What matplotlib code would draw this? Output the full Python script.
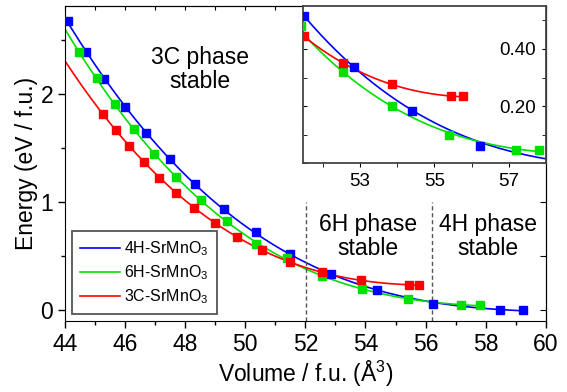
import numpy as np
import matplotlib
matplotlib.use("Agg")
import matplotlib.pyplot as plt
from matplotlib.ticker import MultipleLocator, FixedLocator, FormatStrFormatter

plt.rcParams['font.family'] = ['Liberation Sans', 'DejaVu Sans']
plt.rcParams['mathtext.fontset'] = 'custom'
plt.rcParams['mathtext.rm'] = 'Liberation Sans'
plt.rcParams['mathtext.it'] = 'Liberation Sans:italic'

# data (volume in A^3 / f.u., energy in eV / f.u.)
v_4h = [44.11, 44.69, 45.31, 45.99, 46.70, 47.48, 48.33, 49.28, 50.34, 51.50,
        52.85, 54.39, 56.23, 58.48, 59.25]
e_4h = [2.67, 2.39, 2.135, 1.877, 1.635, 1.397, 1.163, 0.937, 0.725, 0.516,
        0.338, 0.183, 0.062, 0.006, 0.0]

v_6h = [44.47, 45.05, 45.65, 46.29, 46.97, 47.69, 48.51, 49.39, 50.34, 51.40,
        52.54, 53.87, 55.40, 57.18, 57.81]
e_6h = [2.384, 2.141, 1.901, 1.671, 1.447, 1.229, 1.020, 0.820, 0.615, 0.479,
        0.320, 0.200, 0.100, 0.047, 0.046]

v_3c = [45.25, 45.70, 46.14, 46.63, 47.14, 47.70, 48.31, 48.99, 49.72, 50.54,
        51.49, 52.55, 53.85, 55.44, 55.77]
e_3c = [1.813, 1.665, 1.514, 1.370, 1.226, 1.085, 0.943, 0.808, 0.679, 0.556,
        0.445, 0.350, 0.276, 0.234, 0.234]

# fitted curve ranges
fit_4h = (44.0, 59.3)
fit_6h = (44.0, 57.85)
fit_3c = (44.0, 55.8)

# phase boundaries
v_bounds = [52.02, 56.2]

inset_yticks = [0.2, 0.4]

series = [
    ("4H-SrMnO$_3$", v_4h, e_4h, fit_4h, "#0000ff"),
    ("6H-SrMnO$_3$", v_6h, e_6h, fit_6h, "#00e000"),
    ("3C-SrMnO$_3$", v_3c, e_3c, fit_3c, "#ff0000"),
]

fig = plt.figure(figsize=(5.67, 3.92), dpi=100)
ax = fig.add_axes([0.1146, 0.181, 0.848, 0.8036])
axin = fig.add_axes([0.534, 0.5834, 0.429, 0.401])

for name, v, e, rng, col in series:
    coef = np.polyfit(v, e, 3)
    vv = np.linspace(rng[0], rng[1], 300)
    for a in (ax, axin):
        a.plot(vv, np.polyval(coef, vv), color=col, lw=1.2, label=name)
        a.plot(v, e, 's', color=col, ms=5.5, mec=col, zorder=3)

for vb in v_bounds:
    ax.plot([vb, vb], [-0.1, 1.0], ls=(0, (3, 2)), color='#555555', lw=1.0)

txt = dict(ha='center', va='center', fontsize=16.5, linespacing=1.05)
ax.text(48.5, 2.22, "3C phase\nstable", **txt)
ax.text(54.08, 0.68, "6H phase\nstable", **txt)
ax.text(58.08, 0.68, "4H phase\nstable", **txt)

ax.set_xlim(44, 60)
ax.set_ylim(-0.1, 2.81)
ax.xaxis.set_major_locator(MultipleLocator(2))
ax.xaxis.set_minor_locator(MultipleLocator(1))
ax.yaxis.set_major_locator(MultipleLocator(1))
ax.yaxis.set_minor_locator(MultipleLocator(0.5))
ax.tick_params(which='both', direction='out', labelsize=16.5, top=False, right=False, width=1)
ax.tick_params(which='major', length=5)
ax.tick_params(which='minor', length=3)
ax.set_xlabel("Volume / f.u. (Å$^3$)", fontsize=16.5, labelpad=2)
ax.set_ylabel("Energy (eV / f.u.)", fontsize=16.5, labelpad=2)

secx = ax.secondary_xaxis('top')
secx.xaxis.set_major_locator(MultipleLocator(1))
secx.tick_params(direction='in', length=3, labeltop=False)
secy = ax.secondary_yaxis('right')
secy.yaxis.set_major_locator(MultipleLocator(0.5))
secy.tick_params(direction='in', length=4, labelright=False)

leg = ax.legend(handles=ax.lines[0:6:2], loc='lower left', bbox_to_anchor=(0.014, 0.021),
                borderaxespad=0, fontsize=11.5, handlelength=2.5, handletextpad=0.3,
                fancybox=False, edgecolor='#555555', framealpha=1, borderpad=0.5,
                labelspacing=0.35)
leg.get_frame().set_linewidth(1.3)

axin.set_xlim(51.46, 58.0)
axin.set_ylim(0.0, 0.55)
axin.xaxis.set_major_locator(MultipleLocator(2, offset=1))
axin.xaxis.set_minor_locator(MultipleLocator(1))
axin.yaxis.set_major_locator(FixedLocator(inset_yticks))
axin.yaxis.set_minor_locator(MultipleLocator(0.1))
axin.yaxis.set_major_formatter(FormatStrFormatter('%.2f'))
axin.tick_params(axis='y', which='both', direction='in', left=True, right=True,
                 labelleft=False, labelright=True, labelsize=13.5, pad=-34, length=3)
axin.tick_params(axis='x', which='both', direction='out', labelsize=13.5, length=3, pad=4)
for s in axin.spines.values():
    s.set_color('#444444')
    s.set_linewidth(1.3)

fig.savefig("out.png", dpi=100)
